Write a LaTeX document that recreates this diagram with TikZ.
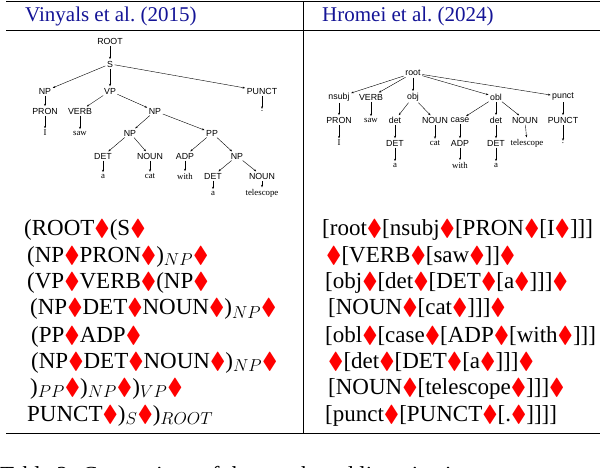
\documentclass[tikz,border=0pt]{standalone}
\usepackage{amssymb}
\usepackage{fontspec}
\setmainfont{Liberation Serif}
\newfontfamily\treefont{Liberation Sans}
\usetikzlibrary{arrows.meta}
\definecolor{citeblue}{RGB}{20,20,150}
\newcommand{\dm}{\textcolor{red}{$\blacklozenge$}}
\begin{document}
\begin{tikzpicture}[x=1pt,y=-1pt,
  tn/.style={font=\treefont\fontsize{8.8}{10}\selectfont,inner sep=1pt},
  tl/.style={font=\fontsize{8.8}{10}\selectfont,inner sep=1pt},
  ed/.style={-{Stealth[length=2.5pt,width=2pt]},line width=0.4pt,shorten <=0.5pt,shorten >=0.5pt},
  row/.style={anchor=base west,inner sep=0pt,font=\fontsize{23}{26}\selectfont},
  hd/.style={anchor=base west,inner sep=0pt,font=\fontsize{21}{24}\selectfont,text=citeblue}]
\useasboundingbox (0,0) rectangle (606,468);
\begin{scope}
\clip (0,0) rectangle (606,468);
% rules
\draw[line width=1pt] (6,2) -- (600,2);
\draw[line width=0.6pt] (6,30) -- (600,30);
\draw[line width=1pt] (6,433) -- (600,433);
\draw[line width=0.6pt] (303,2) -- (303,433);
\node[hd] (h1) at (25,22) {Vinyals et al.\ (2015)};
\node[hd] (h2) at (322,22) {Hromei et al.\ (2024)};
% left tree
\node[tn] (root) at (110,41) {ROOT};
\node[tn] (s) at (110,64) {S};
\node[tn] (np) at (45,91) {NP};
\node[tn] (vp) at (110,91) {VP};
\node[tn] (punct) at (262,91) {PUNCT};
\node[tn] (pron) at (45,111) {PRON};
\node[tn] (verb) at (80,111) {VERB};
\node[tn] (np2) at (155,111) {NP};
\node[tn] (dot) at (262,111) {.};
\node[tl] (i) at (45,133) {I};
\node[tl] (saw) at (80,133) {saw};
\node[tn] (np3) at (130,133) {NP};
\node[tn] (pp) at (212,133) {PP};
\node[tn] (det) at (103,156) {DET};
\node[tn] (noun) at (150,156) {NOUN};
\node[tn] (adp) at (185,156) {ADP};
\node[tn] (np4) at (237,156) {NP};
\node[tl] (a) at (103,176) {a};
\node[tl] (cat) at (150,176) {cat};
\node[tl] (with) at (185,176) {with};
\node[tn] (det2) at (213,176) {DET};
\node[tn] (noun2) at (262,176) {NOUN};
\node[tl] (a2) at (213,193) {a};
\node[tl] (tel) at (262,193) {telescope};
\foreach \u/\v in {root/s,s/np,s/vp,s/punct,punct/dot,np/pron,pron/i,vp/verb,vp/np2,verb/saw,np2/np3,np2/pp,np3/det,np3/noun,det/a,noun/cat,pp/adp,pp/np4,adp/with,np4/det2,np4/noun2,det2/a2,noun2/tel}
  \draw[ed] (\u) -- (\v);
% right tree
\node[tn] (rroot) at (413,73) {root};
\node[tn] (nsubj) at (339,97) {nsubj};
\node[tn] (rverb) at (371,97) {VERB};
\node[tn] (obj) at (413,97) {obj};
\node[tn] (obl) at (496,97) {obl};
\node[tn] (rpunct) at (563,97) {punct};
\node[tn] (rpron) at (339,120) {PRON};
\node[tl] (rsaw) at (371,120) {saw};
\node[tn] (rdet1) at (395,120) {det};
\node[tn] (rnoun1) at (435,120) {NOUN};
\node[tn] (rcase) at (460,120) {case};
\node[tn] (rdet2) at (496,120) {det};
\node[tn] (rnoun2) at (525,120) {NOUN};
\node[tn] (rPUNCT) at (563,120) {PUNCT};
\node[tl] (ri) at (339,143) {I};
\node[tn] (rDET1) at (395,143) {DET};
\node[tl] (rcat) at (435,143) {cat};
\node[tn] (rADP) at (460,143) {ADP};
\node[tn] (rDET2) at (496,143) {DET};
\node[tl] (rtel) at (527,143) {telescope};
\node[tl] (rdot) at (563,143) {.};
\node[tl] (ra1) at (395,165) {a};
\node[tl] (rwith) at (460,165) {with};
\node[tl] (ra2) at (496,165) {a};
\foreach \u/\v in {rroot/nsubj,rroot/rverb,rroot/obj,rroot/obl,rroot/rpunct,nsubj/rpron,rpron/ri,rverb/rsaw,obj/rdet1,rdet1/rDET1,rDET1/ra1,obj/rnoun1,rnoun1/rcat,obl/rcase,rcase/rADP,rADP/rwith,obl/rdet2,rdet2/rDET2,rDET2/ra2,obl/rnoun2,rnoun2/rtel,rpunct/rPUNCT,rPUNCT/rdot}
  \draw[ed] (\u) -- (\v);
% left text
\node[row] (l1) at (24,236) {(ROOT\dm(S\dm};
\node[row] (l2) at (27,262) {(NP\dm PRON\dm)$_{NP}$\dm};
\node[row] (l3) at (27,289) {(VP\dm VERB\dm(NP\dm};
\node[row] (l4) at (30,315) {(NP\dm DET\dm NOUN\dm)$_{NP}$\dm};
\node[row] (l5) at (31,342) {(PP\dm ADP\dm};
\node[row] (l6) at (31,368) {(NP\dm DET\dm NOUN\dm)$_{NP}$\dm};
\node[row] (l7) at (30,394) {)$_{PP}$\dm)$_{NP}$\dm)$_{VP}$\dm};
\node[row] (l8) at (27,421) {PUNCT\dm)$_{S}$\dm)$_{ROOT}$};
% right text
\node[row] (r1) at (322,236) {[root\dm[nsubj\dm[PRON\dm[I\dm]]]};
\node[row] (r2) at (326,262) {\dm[VERB\dm[saw\dm]]\dm};
\node[row] (r3) at (325,289) {[obj\dm[det\dm[DET\dm[a\dm]]]\dm};
\node[row] (r4) at (328,315) {[NOUN\dm[cat\dm]]]\dm};
\node[row] (r5) at (325,342) {[obl\dm[case\dm[ADP\dm[with\dm]]]};
\node[row] (r6) at (328,368) {\dm[det\dm[DET\dm[a\dm]]]\dm};
\node[row] (r7) at (328,394) {[NOUN\dm[telescope\dm]]]\dm};
\node[row] (r8) at (325,421) {[punct\dm[PUNCT\dm[.\dm]]]]};
% caption (cut off)
\node[row] (cap) at (0,482) {Table 2: Comparison of the tree-based linearization};
\end{scope}
\end{tikzpicture}
\end{document}
